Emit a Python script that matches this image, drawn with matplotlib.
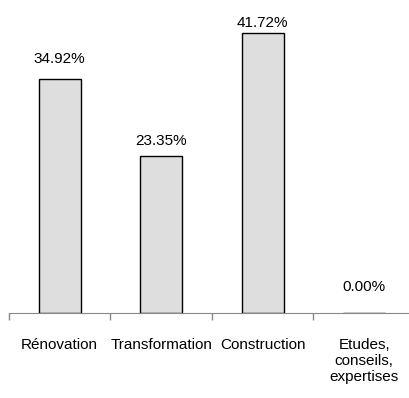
import matplotlib
matplotlib.use("Agg")
import matplotlib.pyplot as plt

categories = ["Rénovation", "Transformation", "Construction", "Etudes,\nconseils,\nexpertises"]
values = [34.92, 23.35, 41.72, 0.00]

plt.rcParams["font.family"] = ["Liberation Sans", "DejaVu Sans"]
fs = 11
label_gap_px = [16, 11, 6, 22]  # gap between bar top and its value label

fig = plt.figure(figsize=(4.10, 3.98), dpi=100)
ax = fig.add_axes([9 / 410, 85 / 398, 406 / 410, 302 / 398])

x = range(len(categories))
ax.bar(x, values, width=0.41, color="#dedede", edgecolor="black", linewidth=1.0)
for xi, v, gap in zip(x, values, label_gap_px):
    ax.annotate(f"{v:.2f}%", (xi, v), xytext=(0, gap), textcoords="offset pixels",
                ha="center", va="baseline", fontsize=fs)

ax.set_xlim(-0.5, len(categories) - 0.5)
ax.set_ylim(0, 45)
ax.set_yticks([])
# boundary ticks between categories, labels centred under the bars
ax.set_xticks([i - 0.5 for i in range(len(categories) + 1)])
ax.set_xticklabels([])
ax.tick_params(axis="x", length=5, color="#888888", width=1)
ax.set_xticks(list(x), minor=True)
ax.set_xticklabels(categories, minor=True, fontsize=fs, va="top", ha="center", linespacing=1.2)
ax.tick_params(axis="x", which="minor", length=0, pad=18)
for side in ["top", "right", "left"]:
    ax.spines[side].set_visible(False)
ax.spines["bottom"].set_color("#888888")

fig.savefig("out.png", dpi=100)
